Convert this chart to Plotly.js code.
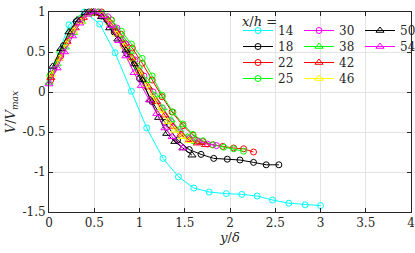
<!DOCTYPE html>
<html><head><meta charset="utf-8">
<script src="https://cdn.plot.ly/plotly-3.0.1.min.js"></script>
<style>body{margin:0;padding:0;background:#fff}#chart{width:415px;height:253px}</style>
</head><body><div id="chart"></div>
<script>
// x/h = 14
const x14 = [0.04,0.22,0.39,0.56,0.73,0.91,1.08,1.26,1.43,1.60,1.77,1.96,2.13,2.30,2.47,2.65,2.83,3.00];
const y14 = [0.27,0.84,1.00,0.85,0.49,0.01,-0.45,-0.83,-1.06,-1.20,-1.25,-1.27,-1.28,-1.30,-1.35,-1.39,-1.41,-1.42];
// x/h = 18
const x18 = [0.02,0.16,0.30,0.44,0.58,0.72,0.86,1.00,1.14,1.28,1.42,1.55,1.68,1.82,1.97,2.11,2.26,2.40,2.54];
const y18 = [0.22,0.58,0.88,1.00,0.95,0.75,0.48,0.17,-0.12,-0.38,-0.60,-0.72,-0.78,-0.83,-0.84,-0.85,-0.88,-0.91,-0.91];
// x/h = 22
const x22 = [0.02,0.13,0.24,0.36,0.47,0.58,0.69,0.80,0.92,1.03,1.14,1.25,1.36,1.48,1.59,1.70,1.81,1.92,2.04,2.15,2.26];
const y22 = [0.15,0.45,0.72,0.90,0.99,1.00,0.90,0.72,0.55,0.36,0.15,-0.06,-0.25,-0.42,-0.54,-0.62,-0.66,-0.68,-0.70,-0.71,-0.75];
// x/h = 25
const x25 = [0.01,0.12,0.24,0.35,0.46,0.58,0.69,0.80,0.91,1.03,1.14,1.25,1.37,1.48,1.59,1.70,1.81,1.93,2.04,2.15];
const y25 = [0.20,0.50,0.76,0.92,1.00,0.99,0.90,0.76,0.60,0.42,0.20,-0.04,-0.25,-0.40,-0.53,-0.61,-0.66,-0.69,-0.71,-0.74];
// x/h = 30
const x30 = [0.05,0.15,0.25,0.35,0.45,0.55,0.65,0.75,0.85,0.95,1.05,1.15,1.25,1.35,1.45,1.55,1.65,1.75,1.85];
const y30 = [0.28,0.52,0.74,0.90,0.99,1.00,0.94,0.80,0.60,0.40,0.20,0.00,-0.20,-0.37,-0.50,-0.58,-0.62,-0.65,-0.67];
// x/h = 38
const x38 = [0.00,0.09,0.18,0.27,0.36,0.45,0.54,0.63,0.72,0.81,0.90,0.99,1.08,1.17,1.26,1.35,1.44,1.53,1.62];
const y38 = [0.12,0.35,0.56,0.74,0.88,0.98,1.00,0.94,0.82,0.66,0.50,0.32,0.14,-0.04,-0.20,-0.35,-0.47,-0.56,-0.62];
// x/h = 42
const x42 = [0.02,0.11,0.20,0.29,0.38,0.47,0.56,0.65,0.74,0.83,0.92,1.01,1.10,1.19,1.28,1.37,1.46,1.55,1.64,1.73];
const y42 = [0.18,0.42,0.63,0.80,0.93,1.00,0.98,0.90,0.76,0.60,0.43,0.25,0.06,-0.12,-0.29,-0.43,-0.53,-0.60,-0.64,-0.66];
// x/h = 46
const x46 = [0.03,0.11,0.19,0.27,0.35,0.43,0.51,0.59,0.67,0.75,0.83,0.91,0.99,1.07,1.15,1.23,1.31,1.39,1.47,1.55];
const y46 = [0.22,0.42,0.60,0.76,0.88,0.97,1.00,0.96,0.86,0.72,0.57,0.41,0.25,0.09,-0.08,-0.23,-0.37,-0.48,-0.56,-0.61];
// x/h = 50
const x50 = [0.04,0.13,0.22,0.31,0.40,0.49,0.58,0.67,0.76,0.85,0.94,1.03,1.12,1.21,1.30,1.39,1.48,1.58];
const y50 = [0.32,0.54,0.75,0.90,0.99,1.00,0.94,0.80,0.66,0.52,0.35,0.15,-0.10,-0.32,-0.52,-0.62,-0.70,-0.79];
// x/h = 54
const x54 = [0.00,0.09,0.17,0.26,0.34,0.43,0.51,0.60,0.68,0.77,0.85,0.94,1.02,1.11,1.19,1.28,1.36,1.48];
const y54 = [0.10,0.30,0.50,0.70,0.86,0.97,1.00,0.95,0.83,0.64,0.45,0.24,0.08,-0.10,-0.27,-0.45,-0.56,-0.70];

const names = ['14','18','22','25','30','38','42','46','50','54'];
const xs = [x14,x18,x22,x25,x30,x38,x42,x46,x50,x54];
const ys = [y14,y18,y22,y25,y30,y38,y42,y46,y50,y54];
const colors = ['#00FFFF','#000000','#FF0000','#00FF00','#FF00FF','#00FF00','#FF0000','#FFFF00','#000000','#FF00FF'];
const symbols = ['circle-open','circle-open','circle-open','circle-open','circle-open','triangle-up-open','triangle-up-open','triangle-up-open','triangle-up-open','triangle-up-open'];
const rowOf = [0,1,2,3,0,1,2,3,0,1];
const legendIds = ['legend','legend2','legend3','legend4'];

const traces = names.map((n,i)=>({
  x: xs[i], y: ys[i], name: n, type:'scatter', mode:'lines+markers',
  line:{color:colors[i], width:1},
  marker:{symbol:symbols[i], color:colors[i], size: symbols[i]==='circle-open'?6:7, line:{width:1}},
  cliponaxis:false,
  legend: legendIds[rowOf[i]]
}));

const serif = 'DejaVu Serif';
const axisCommon = {
  showline:true, mirror:'ticks', linecolor:'#262626', linewidth:1,
  ticks:'inside', ticklen:4, tickcolor:'#262626',
  showgrid:true, gridcolor:'#e3e3e3', gridwidth:1, zeroline:false,
  ticklabeloverflow:'allow',
  tickfont:{family:serif, size:12, color:'#262626'}
};
const legFont = {family:serif, size:12, color:'#262626'};
function leg(topPx){
  return {orientation:'h', xref:'container', yref:'container', x:238/415, y:1-topPx/253,
    xanchor:'left', yanchor:'top', bgcolor:'rgba(0,0,0,0)', borderwidth:0, font:legFont,
    entrywidth:16, entrywidthmode:'pixels', tracegroupgap:0, itemwidth:30};
}
const layout = {
  width:415, height:253,
  font:{family:serif, color:'#262626'},
  margin:{l:49, r:4, t:12, b:41, autoexpand:false},
  paper_bgcolor:'#fff', plot_bgcolor:'#fff',
  showlegend:true,
  xaxis:Object.assign({}, axisCommon, {range:[0,4], tickvals:[0,0.5,1,1.5,2,2.5,3,3.5,4],
    ticktext:['0','0.5','1','1.5','2','2.5','3','3.5','4'],
    title:{text:'<i>y</i>/<i>δ</i>', font:{family:serif, size:13, color:'#262626'}, standoff:2}}),
  yaxis:Object.assign({}, axisCommon, {range:[-1.5,1], tickvals:[-1.5,-1,-0.5,0,0.5,1],
    ticktext:['-1.5','-1','-0.5','0','0.5','1'],
    title:{text:'<i>V</i>/<i>V</i><sub><i>max</i></sub>', font:{family:serif, size:13, color:'#262626'}, standoff:3}}),
  legend: leg(16), legend2: leg(32), legend3: leg(48), legend4: leg(64),
  annotations:[{xref:'paper', yref:'paper', x:(240-49)/362, y:(212-21)/200, xanchor:'left', yanchor:'middle',
    text:'<i>x</i>/<i>h</i> =', showarrow:false, font:{family:serif, size:13, color:'#262626'}}]
};
Plotly.newPlot('chart', traces, layout, {displayModeBar:false, staticPlot:true});
</script></body></html>
